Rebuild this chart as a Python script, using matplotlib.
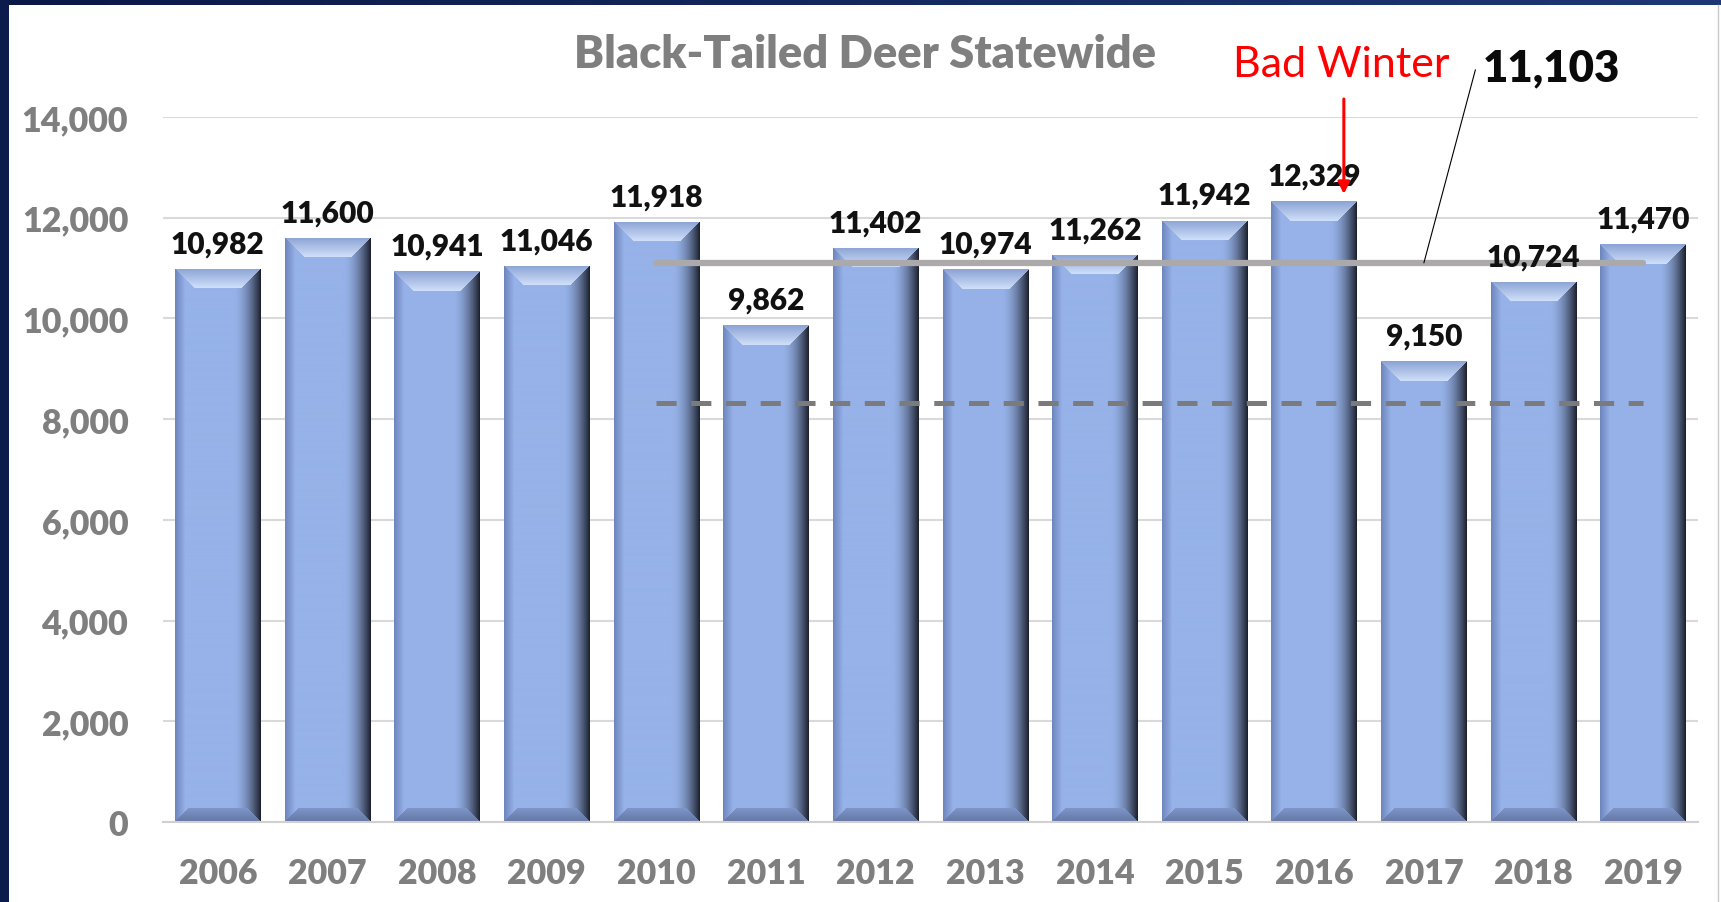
#!/usr/bin/env python

### Import modules ###
#
import numpy as np
import matplotlib
matplotlib.use('Agg')
import matplotlib.pyplot as plt
from matplotlib.patches import Rectangle
from matplotlib.lines import Line2D

### Data ###
#
years = ['2006', '2007', '2008', '2009', '2010', '2011', '2012',
         '2013', '2014', '2015', '2016', '2017', '2018', '2019']
harvest = [10982, 11600, 10941, 11046, 11918, 9862, 11402,
           10974, 11262, 11942, 12329, 9150, 10724, 11470]
avg_start = '2010'          # ten year average runs 2010-2019
threshold = 8330            # dashed reference level
bad_winter = '2016'
yticks = [0, 2000, 4000, 6000, 8000, 10000, 12000, 14000]

### Define functions ###
#
def bevel_image(h, w, top=20, bottom=14):
    # fake the excel "angle" bevel: light top, dark right edge, dark base
    yy, xx = np.mgrid[0:h, 0:w] + 0.5
    u = xx / w
    body = np.array([150, 178, 232]) / 255.
    left_edge = np.array([108, 132, 188]) / 255.
    right_edge = np.array([26, 30, 42]) / 255.
    img = np.empty((h, w, 3))
    img[:] = body
    t = np.clip(1 - u / 0.12, 0, 1)[..., None]
    img = img * (1 - t) + left_edge * t
    t = (np.clip((u - 0.68) / 0.32, 0, 1) ** 1.8)[..., None]
    img = img * (1 - t) + right_edge * t

    dt, db, dl, dr = yy, h - yy, xx, w - xx
    m = (dt < top) & (dt <= dl) & (dt <= dr)
    s = np.clip(dt / top, 0, 1)[..., None]
    top_col = np.array([138, 162, 212]) / 255. * (1 - s) + np.array([208, 224, 250]) / 255. * s
    img = np.where(m[..., None], top_col, img)

    m = (db < bottom) & (db <= dl) & (db <= dr)
    s = np.clip(db / bottom, 0, 1)[..., None]
    bot_col = np.array([100, 118, 162]) / 255. * (1 - s) + np.array([126, 150, 202]) / 255. * s
    img = np.where(m[..., None], bot_col, img)
    return np.clip(img, 0, 1)


### Plot ###
#
plt.rcParams['font.family'] = ['Lato', 'DejaVu Sans']
plt.rcParams['lines.scale_dashes'] = False
BOLD = 'heavy'

W, H = 1721, 903
fig = plt.figure(figsize=(W / 100., H / 100.), dpi=100, facecolor='white')
ax = fig.add_axes([163. / W, 1 - 823. / H, (1698. - 163.) / W, (823. - 118.) / H])

x = np.arange(len(years))
ax.set_xlim(-0.5, len(years) - 0.5)
ax.set_ylim(0, 14000)

bars = ax.bar(x, harvest, width=0.78, color='#96b2e8', zorder=2)

# shaded overlay on each bar
for rect in bars:
    x0, y0 = rect.get_x(), rect.get_y()
    x1, y1 = x0 + rect.get_width(), y0 + rect.get_height()
    (px0, py0), (px1, py1) = ax.transData.transform([(x0, y0), (x1, y1)])
    img = bevel_image(int(round(py1 - py0)), int(round(px1 - px0)))
    im = ax.imshow(img, extent=(x0, x1, y0, y1), aspect='auto', origin='upper',
                   interpolation='bilinear', zorder=2.5)
    im.set_clip_path(rect)

ax.set_xlim(-0.5, len(years) - 0.5)
ax.set_ylim(0, 14000)

# value labels
for rect, v in zip(bars, harvest):
    ax.annotate('{:,}'.format(v), (rect.get_x() + rect.get_width() / 2., v),
                xytext=(0, 12), textcoords='offset points', ha='center',
                va='baseline', fontsize=21.5, fontweight=BOLD, color='#111111',
                zorder=6, annotation_clip=False)

# average and threshold lines
i0 = years.index(avg_start)
avg = np.mean(harvest[i0:])
ax.plot([x[i0], x[-1]], [avg, avg], color='#aba9a9', lw=4.5,
        solid_capstyle='round', zorder=4)
ax.plot([x[i0], x[-1]], [threshold, threshold], color='#7b7b7b', lw=3.6,
        dashes=(14.5, 10.5), zorder=4)

ax.annotate('{:,.0f}'.format(avg), xy=(x[i0] + 7, avg), xytext=(11.54, 14990),
            ha='left', va='center', fontsize=31.5, fontweight=BOLD, color='#0a0a0a',
            annotation_clip=False, zorder=6,
            arrowprops=dict(arrowstyle='-', color='black', lw=0.8, relpos=(0, 0.5),
                            shrinkA=4, shrinkB=0,
                            connectionstyle='arc,angleA=180,armA=7,angleB=0,armB=0,rad=0'))

# bad winter callout
ib = years.index(bad_winter)
ax.text(ib + 0.25, 14814, 'Bad Winter', ha='center', va='baseline', fontsize=31,
        color='#ff0000', zorder=6, clip_on=False)
ax.annotate('', xy=(ib + 0.27, 12471), xytext=(ib + 0.27, 14357),
            annotation_clip=False, zorder=7,
            arrowprops=dict(arrowstyle='-|>,head_length=0.7,head_width=0.35',
                            color='#ff0000', lw=2.2, shrinkA=0, shrinkB=0))

# axes styling
ax.set_yticks(yticks)
ax.set_yticklabels(['{:,}'.format(t) for t in yticks])
ax.set_xticks(x)
ax.set_xticklabels(years)
ax.tick_params(length=0, labelsize=24.5, labelcolor='#7f7f7f')
ax.tick_params(axis='y', pad=25)
ax.tick_params(axis='x', pad=25)
for lab in ax.get_xticklabels() + ax.get_yticklabels():
    lab.set_fontweight(BOLD)
ax.grid(axis='y', color='#d9d9d9', lw=1.5)
ax.set_axisbelow(True)
for s in ['top', 'right', 'left']:
    ax.spines[s].set_visible(False)
ax.spines['bottom'].set_color('#d0d0d0')
ax.spines['bottom'].set_linewidth(1.5)

fig.text(865. / W, 1 - 68. / H, 'Black-Tailed Deer Statewide', ha='center',
         va='baseline', fontsize=32.5, fontweight=BOLD, color='#7f7f7f')

# slide frame: navy strip on the left, gradient bar on top, thin rule on the right
fig.patches.append(Rectangle((0, 0), 9. / W, 1, transform=fig.transFigure,
                             facecolor='#0b1b4b', edgecolor='none', zorder=10))
top_ax = fig.add_axes([0, 1 - 6. / H, 1, 6. / H])
grad = np.linspace(0, 1, 256)[None, :, None]
top_img = np.array([10, 24, 70]) / 255. * (1 - grad) + np.array([30, 56, 118]) / 255. * grad
top_ax.imshow(top_img, aspect='auto', extent=(0, 1, 0, 1))
top_ax.set_axis_off()
fig.lines.append(Line2D([1718. / W, 1718. / W], [0, 1 - 6. / H], transform=fig.transFigure,
                        color='#c8c8c8', lw=1))

fig.savefig('out.png', dpi=100, facecolor='white')
